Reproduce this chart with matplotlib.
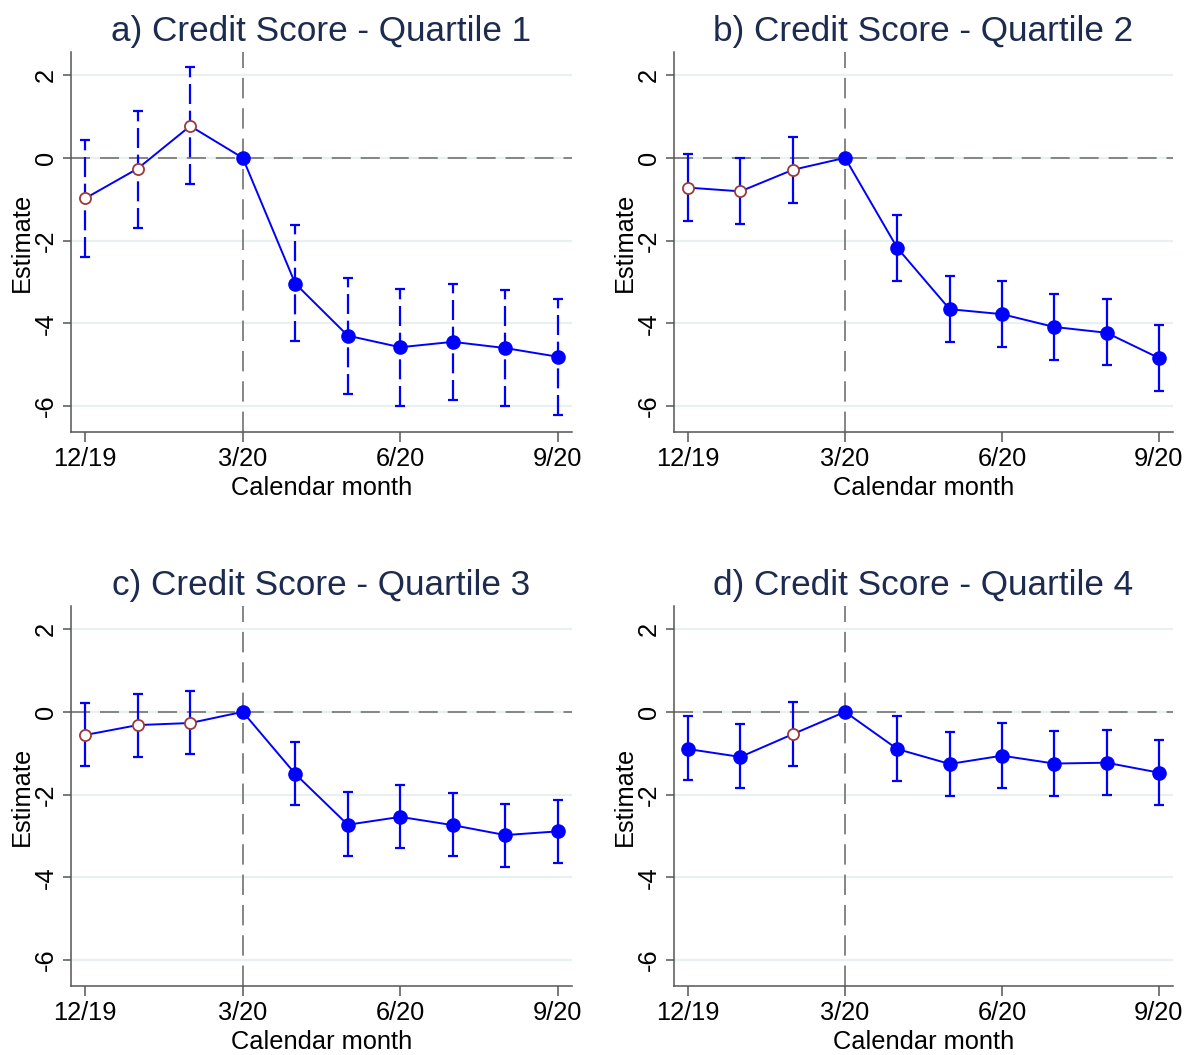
import matplotlib
matplotlib.use("Agg")
import matplotlib.pyplot as plt
import numpy as np

plt.rcParams['font.family'] = ['Liberation Sans', 'DejaVu Sans']

# Event-study estimates by credit-score quartile (months 12/19 .. 9/20)
months = list(range(10))
tick_positions = [0, 3, 6, 9]
tick_labels = ['12/19', '3/20', '6/20', '9/20']

titles = ['a) Credit Score - Quartile 1', 'b) Credit Score - Quartile 2',
          'c) Credit Score - Quartile 3', 'd) Credit Score - Quartile 4']

q1_est = [-0.98, -0.26, 0.77, 0.0, -3.04, -4.30, -4.58, -4.45, -4.60, -4.81]
q1_lo = [-2.39, -1.69, -0.64, 0.0, -4.44, -5.71, -6.01, -5.86, -6.01, -6.23]
q1_hi = [0.44, 1.14, 2.19, 0.0, -1.62, -2.90, -3.17, -3.04, -3.19, -3.41]

q2_est = [-0.72, -0.81, -0.29, 0.0, -2.18, -3.66, -3.78, -4.09, -4.23, -4.84]
q2_lo = [-1.52, -1.61, -1.10, 0.0, -2.97, -4.46, -4.57, -4.88, -5.02, -5.63]
q2_hi = [0.10, 0.00, 0.51, 0.0, -1.37, -2.86, -2.97, -3.29, -3.42, -4.04]

q3_est = [-0.56, -0.32, -0.27, 0.0, -1.50, -2.73, -2.54, -2.74, -2.98, -2.89]
q3_lo = [-1.31, -1.09, -1.02, 0.0, -2.26, -3.48, -3.30, -3.49, -3.74, -3.65]
q3_hi = [0.22, 0.44, 0.50, 0.0, -0.73, -1.94, -1.77, -1.96, -2.23, -2.12]

q4_est = [-0.90, -1.09, -0.54, 0.0, -0.90, -1.26, -1.06, -1.25, -1.23, -1.47]
q4_lo = [-1.66, -1.85, -1.31, 0.0, -1.68, -2.04, -1.85, -2.03, -2.02, -2.25]
q4_hi = [-0.10, -0.29, 0.24, 0.0, -0.11, -0.48, -0.28, -0.46, -0.45, -0.69]

# months whose point estimate is shown as an open circle
q1_open = [0, 1, 2]
q2_open = [0, 1, 2]
q3_open = [0, 1, 2]
q4_open = [2]

panels = [
    (q1_est, q1_lo, q1_hi, q1_open, True),
    (q2_est, q2_lo, q2_hi, q2_open, False),
    (q3_est, q3_lo, q3_hi, q3_open, False),
    (q4_est, q4_lo, q4_hi, q4_open, False),
]

BLUE = '#0000ff'
OPEN_EDGE = '#9a3b3b'
GRID = '#e9f0f2'
REF = '#858585'
AXIS = '#555555'
TITLE = '#1c2b4f'

fig = plt.figure(figsize=(11.92, 10.55), dpi=100)

W, H = 1192, 1055
boxes = [
    (71, 52, 572, 432),
    (674, 52, 1173, 432),
    (71, 606, 572, 986),
    (674, 606, 1173, 986),
]

for (est, lo, hi, open_idx, dashed_ci), title, (x0, y0, x1, y1) in zip(panels, titles, boxes):
    ax = fig.add_axes([x0 / W, 1 - y1 / H, (x1 - x0) / W, (y1 - y0) / H])
    ax.set_xlim(-0.27, 9.27)
    ax.set_ylim(-6.63, 2.56)

    for g in [-6, -4, -2, 0, 2]:
        ax.axhline(g, color=GRID, lw=1.6, zorder=0)
    ax.axhline(0, color=REF, lw=1.4, dashes=(9.8, 5.1), zorder=1)
    ax.axvline(3, color=REF, lw=1.4, dashes=(10.5, 5.1), zorder=1)

    est_a = np.array(est)
    lo_a = np.array(lo)
    hi_a = np.array(hi)
    x_a = np.array(months)
    has_ci = hi_a > lo_a
    eb = ax.errorbar(x_a[has_ci], est_a[has_ci],
                     yerr=[est_a[has_ci] - lo_a[has_ci], hi_a[has_ci] - est_a[has_ci]],
                     fmt='none', ecolor=BLUE, elinewidth=1.6, capsize=3.5,
                     capthick=1.6, zorder=2)
    if dashed_ci:
        eb[2][0].set_linestyle((0, (9, 3)))

    ax.plot(months, est, color=BLUE, lw=1.4, zorder=3)

    filled = [i for i in months if i not in open_idx]
    ax.plot([months[i] for i in filled], [est[i] for i in filled], 'o',
            color=BLUE, ms=9.5, mec=BLUE, zorder=4, linestyle='none')
    if open_idx:
        ax.plot([months[i] for i in open_idx], [est[i] for i in open_idx], 'o',
                mfc='white', mec=OPEN_EDGE, mew=1.3, ms=8, zorder=4,
                linestyle='none')

    ax.set_xticks(tick_positions)
    ax.set_xticklabels(tick_labels)
    ax.set_yticks([-6, -4, -2, 0, 2])
    ax.set_yticklabels(['-6', '-4', '-2', '0', '2'])
    for lab in ax.get_yticklabels():
        lab.set_rotation(90)
        lab.set_va('center')

    ax.tick_params(axis='both', labelsize=18.3, width=1.1,
                   color=AXIS, direction='out')
    ax.tick_params(axis='y', length=5.5, pad=3.7)
    ax.tick_params(axis='x', length=7, pad=3.8)

    for side in ['top', 'right']:
        ax.spines[side].set_visible(False)
    for side in ['left', 'bottom']:
        ax.spines[side].set_color(AXIS)
        ax.spines[side].set_linewidth(1.1)

    ax.set_xlabel('Calendar month', fontsize=18.3, labelpad=3.5)
    ax.set_ylabel('Estimate', fontsize=18.3, labelpad=0.5)
    ax.set_title(title, fontsize=25.3, color=TITLE, pad=8)

fig.savefig('out.png', dpi=100, facecolor='white')
